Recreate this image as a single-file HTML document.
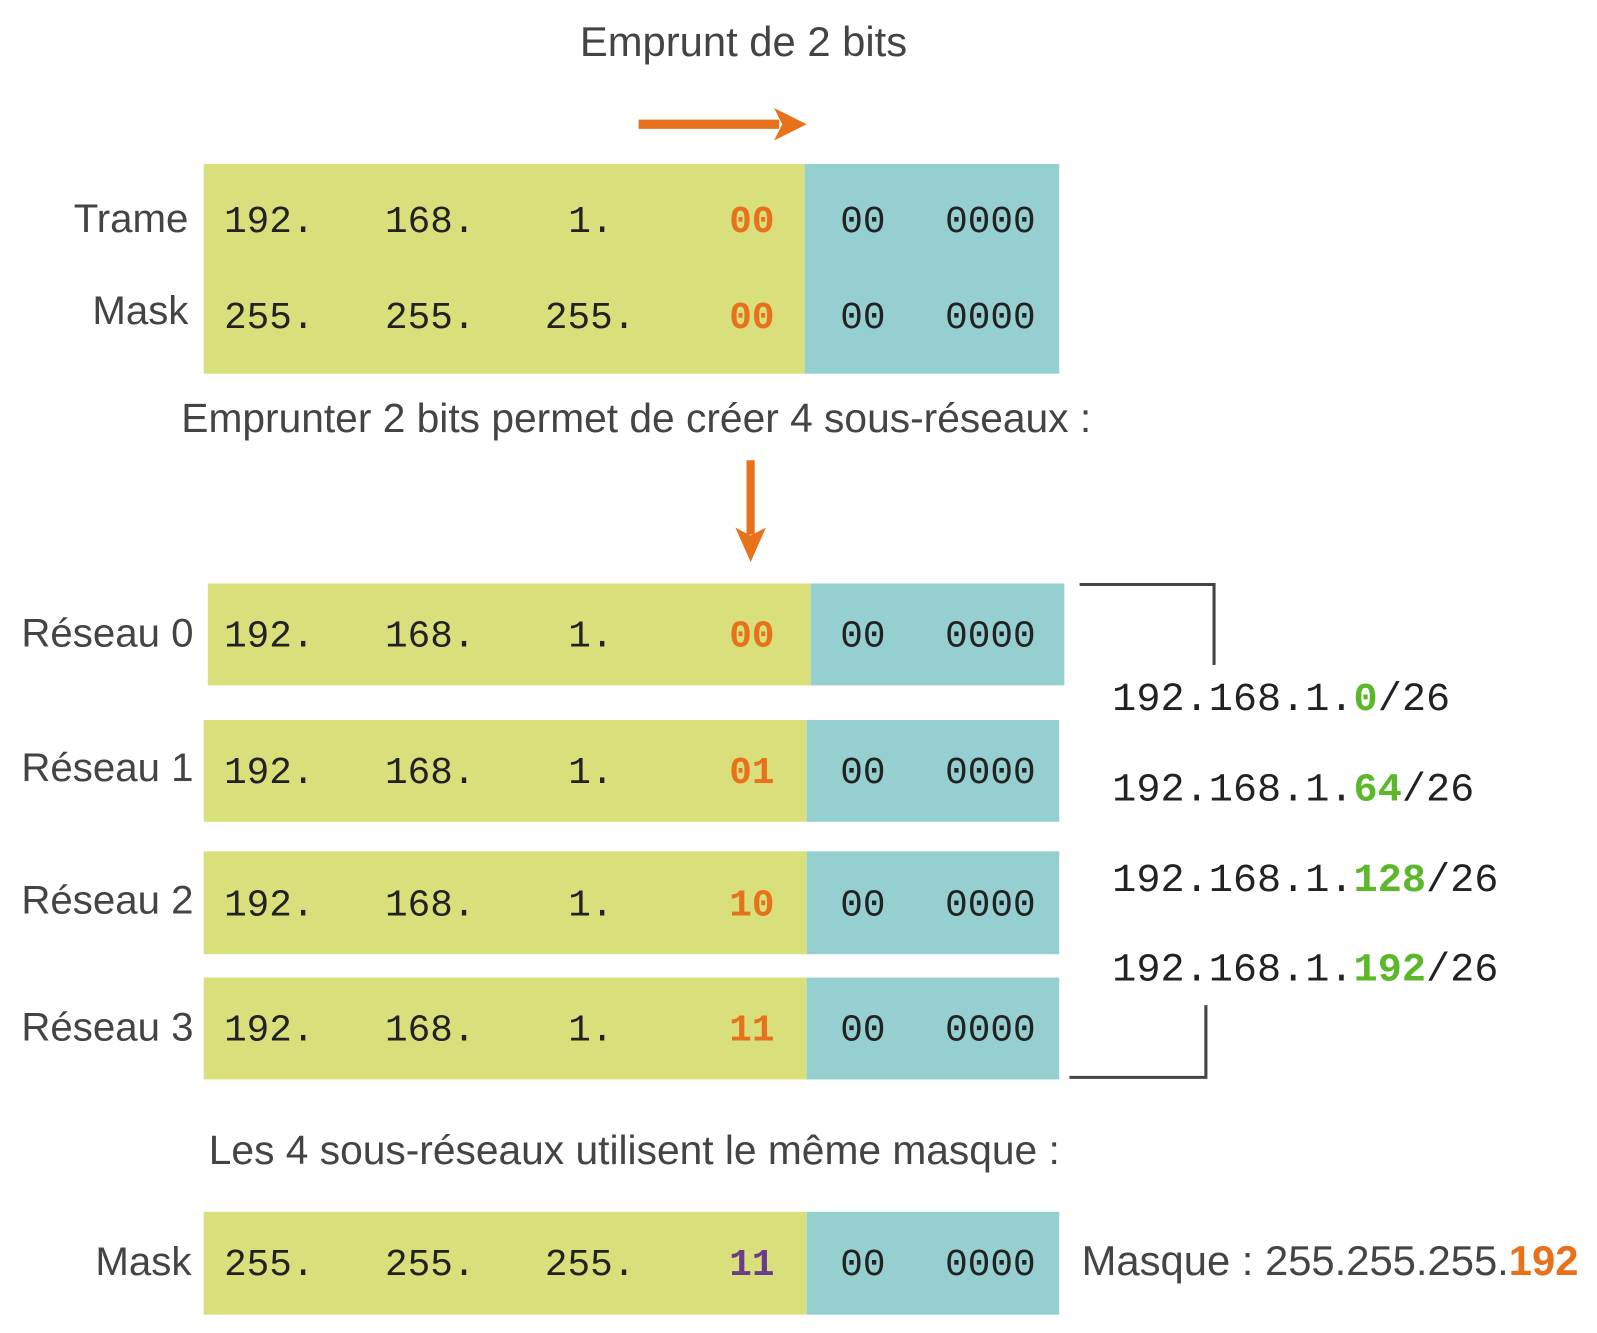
<!DOCTYPE html>
<html><head><meta charset="utf-8"><style>
html,body{margin:0;padding:0;background:#fff;}
svg{display:block;}
.s{font-family:"Liberation Sans",sans-serif;fill:#444;font-size:40px;}
.m{font-family:"Liberation Mono",monospace;fill:#222;font-size:37px;}
.ip{font-size:39.5px;}
.o{fill:#e8721c;font-weight:bold;}
.p{fill:#6a3d8a;font-weight:bold;}
.g{fill:#5cb82a;font-weight:bold;}
</style></head><body>
<svg width="1597" height="1333" viewBox="0 0 1568 1309" preserveAspectRatio="none">
<text class="s" x="730" y="55" text-anchor="middle" style="font-size:41px">Emprunt de 2 bits</text>
<line x1="627" y1="122" x2="765" y2="122" stroke="#e8721c" stroke-width="9"/>
<polygon points="760,106 792,122 760,138 768,122" fill="#e8721c"/>

<rect x="200" y="161" width="590" height="206" fill="#d9df7a"/>
<rect x="790" y="161" width="250" height="206" fill="#95cfcf"/>
<text class="s" x="185" y="228" text-anchor="end" style="font-size:39.5px">Trame</text>
<text class="s" x="185" y="318" text-anchor="end" style="font-size:39.5px">Mask</text>
<text class="m" y="228"><tspan x="220">192.</tspan><tspan x="378">168.</tspan><tspan x="558">1.</tspan><tspan x="716" class="o">00</tspan><tspan x="825">00</tspan><tspan x="928">0000</tspan></text>
<text class="m" y="322"><tspan x="220">255.</tspan><tspan x="378">255.</tspan><tspan x="535">255.</tspan><tspan x="716" class="o">00</tspan><tspan x="825">00</tspan><tspan x="928">0000</tspan></text>

<text class="s" x="178" y="424">Emprunter 2 bits permet de créer 4 sous-réseaux :</text>
<line x1="737" y1="452" x2="737" y2="525" stroke="#e8721c" stroke-width="8"/>
<polygon points="722,518 737,552 752,518 737,526" fill="#e8721c"/>

<rect x="204" y="573" width="592" height="100" fill="#d9df7a"/><rect x="796" y="573" width="249" height="100" fill="#95cfcf"/>
<rect x="200" y="707" width="592" height="100" fill="#d9df7a"/><rect x="792" y="707" width="248" height="100" fill="#95cfcf"/>
<rect x="200" y="836" width="592" height="101" fill="#d9df7a"/><rect x="792" y="836" width="248" height="101" fill="#95cfcf"/>
<rect x="200" y="960" width="592" height="100" fill="#d9df7a"/><rect x="792" y="960" width="248" height="100" fill="#95cfcf"/>

<g style="font-size:39.5px">
<text class="s" x="190" y="635" text-anchor="end" style="font-size:39.5px">Réseau 0</text>
<text class="s" x="190" y="767" text-anchor="end" style="font-size:39.5px">Réseau 1</text>
<text class="s" x="190" y="897" text-anchor="end" style="font-size:39.5px">Réseau 2</text>
<text class="s" x="190" y="1022" text-anchor="end" style="font-size:39.5px">Réseau 3</text>
</g>
<text class="m" y="635"><tspan x="220">192.</tspan><tspan x="378">168.</tspan><tspan x="558">1.</tspan><tspan x="716" class="o">00</tspan><tspan x="825">00</tspan><tspan x="928">0000</tspan></text>
<text class="m" y="769"><tspan x="220">192.</tspan><tspan x="378">168.</tspan><tspan x="558">1.</tspan><tspan x="716" class="o">01</tspan><tspan x="825">00</tspan><tspan x="928">0000</tspan></text>
<text class="m" y="899"><tspan x="220">192.</tspan><tspan x="378">168.</tspan><tspan x="558">1.</tspan><tspan x="716" class="o">10</tspan><tspan x="825">00</tspan><tspan x="928">0000</tspan></text>
<text class="m" y="1022"><tspan x="220">192.</tspan><tspan x="378">168.</tspan><tspan x="558">1.</tspan><tspan x="716" class="o">11</tspan><tspan x="825">00</tspan><tspan x="928">0000</tspan></text>

<polyline points="1060,574 1192,574 1192,653" fill="none" stroke="#444" stroke-width="3"/>
<polyline points="1050,1058 1184,1058 1184,987" fill="none" stroke="#444" stroke-width="3"/>
<text class="m ip" x="1092" y="697">192.168.1.<tspan class="g">0</tspan>/26</text>
<text class="m ip" x="1092" y="786">192.168.1.<tspan class="g">64</tspan>/26</text>
<text class="m ip" x="1092" y="875">192.168.1.<tspan class="g">128</tspan>/26</text>
<text class="m ip" x="1092" y="963">192.168.1.<tspan class="g">192</tspan>/26</text>

<text class="s" x="205" y="1143">Les 4 sous-réseaux utilisent le même masque :</text>
<rect x="200" y="1190" width="592" height="101" fill="#d9df7a"/><rect x="792" y="1190" width="248" height="101" fill="#95cfcf"/>
<text class="s" x="188" y="1252" text-anchor="end" style="font-size:39.5px">Mask</text>
<text class="m" y="1252"><tspan x="220">255.</tspan><tspan x="378">255.</tspan><tspan x="535">255.</tspan><tspan x="716" class="p">11</tspan><tspan x="825">00</tspan><tspan x="928">0000</tspan></text>
<text class="s" x="1062" y="1252" style="font-size:41px">Masque : 255.255.255.<tspan class="o">192</tspan></text>
</svg>
</body></html>
